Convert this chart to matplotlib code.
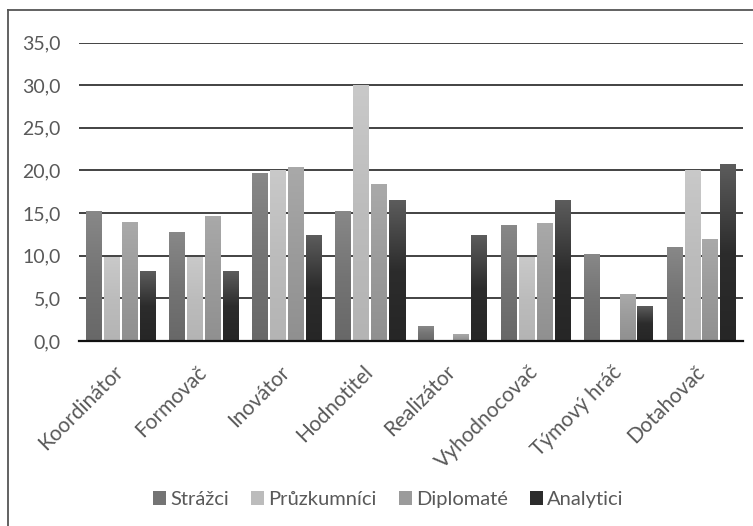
import numpy as np
import matplotlib
matplotlib.use("Agg")
import matplotlib.pyplot as plt
from matplotlib.lines import Line2D
from matplotlib.patches import Patch

plt.rcParams["font.family"] = ["Lato", "DejaVu Sans"]

roles = ["Koordinátor", "Formovač", "Inovátor", "Hodnotitel",
         "Realizátor", "Vyhodnocovač", "Týmový hráč", "Dotahovač"]
series_names = ["Strážci", "Průzkumníci", "Diplomaté", "Analytici"]

strazci = [15.2, 12.7, 19.6, 15.2, 1.7, 13.6, 10.1, 11.0]
pruzkumnici = [9.8, 9.8, 20.0, 30.0, 0.0, 9.8, 0.0, 20.0]
diplomate = [13.9, 14.6, 20.3, 18.4, 0.8, 13.8, 5.4, 11.9]
analytici = [8.2, 8.2, 12.4, 16.5, 12.4, 16.5, 4.0, 20.7]

# grey ramps (top, middle, bottom) for each series
ramps = [
    (0x88, 0x74, 0x68),
    (0xc9, 0xbc, 0xb4),
    (0xa9, 0x9b, 0x90),
    (0x5c, 0x2c, 0x26),
]

TEXT = "#595959"

fig = plt.figure(figsize=(7.53, 5.26), dpi=100)
ax = fig.add_axes([79 / 753, 1 - 341 / 526, (743 - 79) / 753, (341 - 42.5) / 526])

x = np.arange(len(roles))
width = 16 / 83
step = 18 / 83
offsets = (np.arange(4) - 1.5) * step

for vals, off, ramp in zip([strazci, pruzkumnici, diplomate, analytici], offsets, ramps):
    bars = ax.bar(x + off, vals, width, facecolor="none", edgecolor="none", zorder=3)
    t = np.linspace(0, 1, 100)
    g = np.interp(t, [0, 0.5, 1], ramp) / 255.0
    img = np.repeat(np.stack([g, g, g], axis=-1)[:, None, :], 2, axis=1)
    for b in bars:
        h = b.get_height()
        if h <= 0:
            continue
        x0 = b.get_x()
        ax.imshow(img, extent=(x0, x0 + b.get_width(), 0, h), origin="upper",
                  aspect="auto", interpolation="bilinear", zorder=3)

ax.set_xlim(-0.5, len(roles) - 0.5)
ax.set_ylim(0, 35)
ax.set_yticks(np.arange(0, 36, 5))
ax.set_yticklabels([f"{v:.1f}".replace(".", ",") for v in np.arange(0, 36, 5)])
ax.set_xticks(x)
ax.set_xticklabels(roles, rotation=45, ha="right", va="center", rotation_mode="anchor")

ax.grid(axis="y", color="#222222", linewidth=1.2, zorder=1)
ax.set_axisbelow(True)
for side in ["top", "right", "left"]:
    ax.spines[side].set_visible(False)
ax.spines["bottom"].set_color("#111111")
ax.spines["bottom"].set_linewidth(1.6)
ax.spines["bottom"].set_zorder(4)
ax.tick_params(axis="both", length=0, colors=TEXT)
ax.tick_params(axis="y", pad=13, labelsize=14)
ax.tick_params(axis="x", pad=20, labelsize=15)

handles = [Patch(facecolor="#%02x%02x%02x" % ((r[1],) * 3), edgecolor="none") for r in ramps]
fig.legend(handles, series_names, loc="center", bbox_to_anchor=(0.516, 0.05), ncol=4,
           frameon=False, fontsize=14.5, labelcolor=TEXT, handlelength=0.65,
           handleheight=0.65, handletextpad=0.2, columnspacing=1.1)

# chart area border (left and top edges)
fig.add_artist(Line2D([8 / 753, 8 / 753], [0, 1 - 10 / 526], transform=fig.transFigure,
                      color="#555555", linewidth=1.3))
fig.add_artist(Line2D([8 / 753, 1], [1 - 10 / 526, 1 - 10 / 526], transform=fig.transFigure,
                      color="#555555", linewidth=1.3))

fig.savefig("out.png", dpi=100)
